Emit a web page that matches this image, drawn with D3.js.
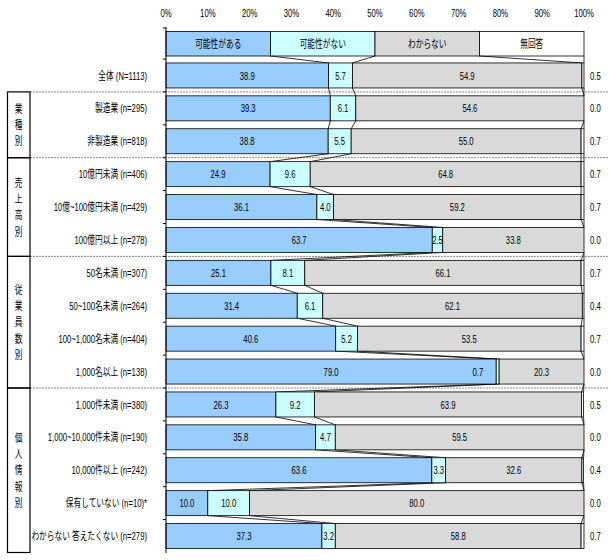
<!DOCTYPE html>
<html><head><meta charset="utf-8">
<script src="https://cdn.jsdelivr.net/npm/d3@7/dist/d3.min.js"></script>
<style>body{margin:0;background:#fff}svg{display:block}text{font-family:"Liberation Sans","Noto Sans CJK JP",sans-serif;font-size:11px;fill:#000}</style>
</head><body><svg id="c" width="610" height="560"></svg>
<script>
const rows = ["全体 (N=1113)","製造業 (n=295)","非製造業 (n=818)","10億円未満 (n=406)","10億~100億円未満 (n=429)","100億円以上 (n=278)","50名未満 (n=307)","50~100名未満 (n=264)","100~1,000名未満 (n=404)","1,000名以上 (n=138)","1,000件未満 (n=380)","1,000~10,000件未満 (n=190)","10,000件以上 (n=242)","保有していない (n=10)*","わからない 答えたくない (n=279)"];
const aru       = [38.9,39.3,38.8,24.9,36.1,63.7,25.1,31.4,40.6,79.0,26.3,35.8,63.6,10.0,37.3];
const nai       = [5.7,6.1,5.5,9.6,4.0,2.5,8.1,6.1,5.2,0.7,9.2,4.7,3.3,10.0,3.2];
const wakaranai = [54.9,54.6,55.0,64.8,59.2,33.8,66.1,62.1,53.5,20.3,63.9,59.5,32.6,80.0,58.8];
const mukaito   = [0.5,0.0,0.7,0.7,0.7,0.0,0.7,0.4,0.7,0.0,0.5,0.0,0.4,0.0,0.7];
const seriesNames = ["可能性がある","可能性がない","わからない","無回答"];
const tickLabels = ["0%","10%","20%","30%","40%","50%","60%","70%","80%","90%","100%"];
const tickValues = [0,10,20,30,40,50,60,70,80,90,100];
const groupNames = ["","業種別","売上高別","従業員数別","個人情報別"];
const groupSizes = [1,2,3,4,5];
const colors = ["#99CCFF","#CCFFFF","#D9D9D9","#FFFFFF"];

const SX = 0.7;
const svg = d3.select("#c");
const x = d3.scaleLinear([0,100],[166,584]);
const y = d3.scaleBand(rows,[59,552.5]).paddingInner(0.24).paddingOuter(0.12);
const bh = y.bandwidth();

function txt(g, px, py, s, anchor){
  return g.append("text").attr("transform",`translate(${px},${py}) scale(${SX},1)`)
    .attr("text-anchor",anchor||"middle").attr("dominant-baseline","central").text(s);
}

// top tick labels
tickValues.forEach((v,i)=>txt(svg, x(v), 13, tickLabels[i]));

// stacked data
const series = [aru,nai,wakaranai,mukaito];
const stacks = rows.map((r,i)=>{
  let c=0; return series.map((s,k)=>{const a=c; c+=s[i]; return {k, v:s[i], x0:a, x1:c};});
});

// group separators (dotted)
let idx=0;
const bounds=[];
groupSizes.forEach((n,g)=>{ const s=idx; idx+=n; bounds.push({g, s, e:idx-1}); });
const step = y.step();
function rowTop(i){ return y(rows[i]) - step*0.12; }
function rowBot(i){ return y(rows[i]) + bh + step*0.12; }
bounds.slice(1).forEach(b=>{
  svg.append("line").attr("x1",30).attr("x2",608).attr("y1",rowTop(b.s)).attr("y2",rowTop(b.s))
    .attr("stroke","#888").attr("stroke-width",1).attr("stroke-dasharray","2,1");
});
// group boxes
bounds.slice(1).forEach(b=>{
  const t=rowTop(b.s), bt=(b.e===rows.length-1)? y.range()[1] : rowBot(b.e);
  svg.append("rect").attr("x",7.5).attr("y",t).attr("width",22.5).attr("height",bt-t)
    .attr("fill","none").attr("stroke","#000").attr("stroke-width",1.2);
  const chars = Array.from(groupNames[b.g]);
  const mid=(t+bt)/2, sp=16.3;
  chars.forEach((ch,j)=>{
    svg.append("text").attr("x",18.5).attr("y",mid+(j-(chars.length-1)/2)*sp)
      .attr("text-anchor","middle").attr("dominant-baseline","central")
      .attr("transform",`translate(${18.5*(1-SX)},0) scale(${SX},1)`).style("font-size","11px").text(ch);
  });
});

// category labels
rows.forEach(r=>txt(svg,147,y(r)+bh/2,r,"end"));

// legend
const lgTop=31.5, lgH=24.5;
seriesNames.forEach((n,k)=>{
  svg.append("rect").attr("x",x(k*25)).attr("y",lgTop).attr("width",x(25)-x(0)).attr("height",lgH)
    .attr("fill",colors[k]).attr("stroke","#000").attr("stroke-width",0.8);
  txt(svg, x(k*25+12.5), lgTop+lgH/2, n);
});

// connector lines
const conn = svg.append("g").attr("stroke","#000").attr("stroke-width",0.8).attr("fill","none");
[0,1,2,3].forEach(k=>{
  conn.append("line").attr("x1",x((k+1)*25)).attr("y1",lgTop+lgH).attr("x2",x(stacks[0][k].x1)).attr("y2",y(rows[0]));
  for(let i=0;i<rows.length-1;i++){
    conn.append("line").attr("x1",x(stacks[i][k].x1)).attr("y1",y(rows[i])+bh)
      .attr("x2",x(stacks[i+1][k].x1)).attr("y2",y(rows[i+1]));
  }
});

// bars
const rg = svg.selectAll("g.row").data(rows).join("g").attr("class","row");
rg.each(function(r,i){
  const g=d3.select(this);
  stacks[i].forEach(s=>{
    g.append("rect").attr("x",x(s.x0)).attr("y",y(r)).attr("width",Math.max(0,x(s.x1)-x(s.x0))).attr("height",bh)
      .attr("fill",colors[s.k]).attr("stroke","#000").attr("stroke-width",0.8);
  });
  stacks[i].slice(0,3).forEach(s=>{
    const w=x(s.x1)-x(s.x0);
    if(w<6) txt(g, x(s.x0)-13, y(r)+bh/2, s.v.toFixed(1), "end");
    else txt(g, (x(s.x0)+x(s.x1))/2, y(r)+bh/2, s.v.toFixed(1));
  });
  txt(g, 590, y(r)+bh/2, mukaito[i].toFixed(1), "start");
});

// category axis line and ticks
svg.append("line").attr("x1",166).attr("x2",166).attr("y1",27).attr("y2",553).attr("stroke","#000").attr("stroke-width",1);
const tk=[lgTop-3.5, 59].concat(rows.slice(1).map((r,i)=>rowTop(i+1)));
tk.forEach(t=>svg.append("line").attr("x1",163).attr("x2",166).attr("y1",t).attr("y2",t).attr("stroke","#000"));
</script></body></html>
